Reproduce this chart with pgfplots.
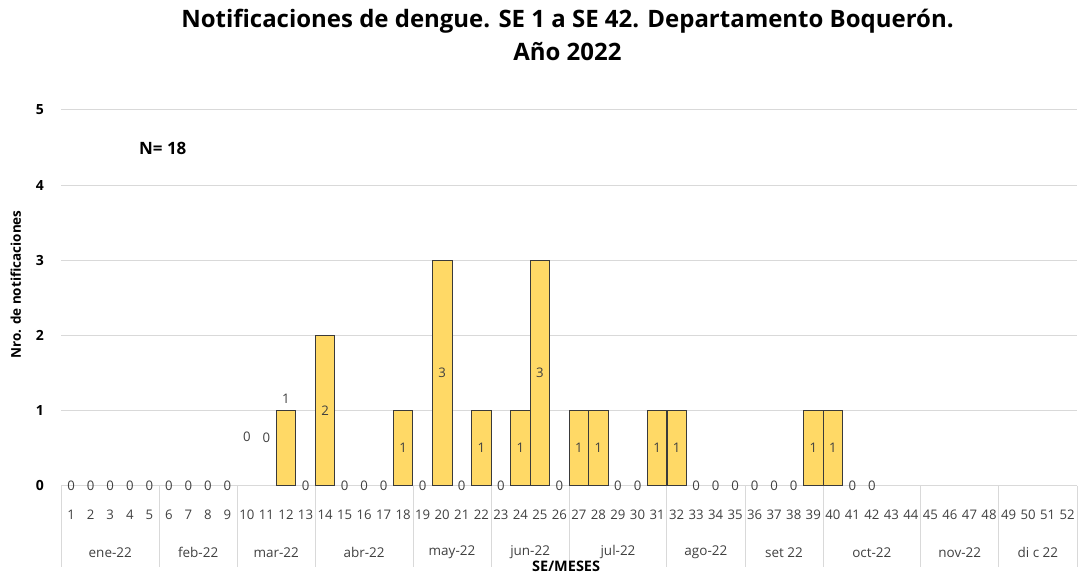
\documentclass[border=0pt]{standalone}
\usepackage{fontspec}
\setmainfont{Open Sans}
\usepackage{pgfplots}
\pgfplotsset{compat=1.18}
\usepackage{pgfplotstable}
\definecolor{barfill}{HTML}{FFD966}
\definecolor{bardraw}{HTML}{3A3A3A}
\definecolor{gridc}{HTML}{D9D9D9}
\definecolor{txt}{HTML}{404040}

% week, value, label position, label
\pgfplotstableread{
week value ly lab
1 0 0 0
2 0 0 0
3 0 0 0
4 0 0 0
5 0 0 0
6 0 0 0
7 0 0 0
8 0 0 0
9 0 0 0
10 0 0.65 0
11 0 0.63 0
12 1 1.16 1
13 0 0 0
14 2 1 2
15 0 0 0
16 0 0 0
17 0 0 0
18 1 0.5 1
19 0 0 0
20 3 1.5 3
21 0 0 0
22 1 0.5 1
23 0 0 0
24 1 0.5 1
25 3 1.5 3
26 0 0 0
27 1 0.5 1
28 1 0.5 1
29 0 0 0
30 0 0 0
31 1 0.5 1
32 1 0.5 1
33 0 0 0
34 0 0 0
35 0 0 0
36 0 0 0
37 0 0 0
38 0 0 0
39 1 0.5 1
40 1 0.5 1
41 0 0 0
42 0 0 0
}\data

\begin{document}
\begin{tikzpicture}
\path (-61.5pt,-87pt) rectangle (1016.5pt,486pt);
\begin{axis}[
  at={(0,0)}, anchor=south west,
  scale only axis, width=1016.5pt, height=376pt,
  xmin=0.5, xmax=52.5, ymin=0, ymax=5,
  xtick={1,...,52}, ytick={0,...,5},
  major tick length=0pt,
  axis x line=bottom, axis y line=left,
  axis line style={draw=none},
  ymajorgrids, grid style={gridc, line width=0.8pt},
  /pgf/number format/assume math mode=true,
  xticklabel style={font=\fontsize{13.2}{15}\selectfont, text=txt, anchor=center, yshift=-29pt},
  yticklabel style={font=\bfseries\fontsize{14}{16}\selectfont, text=black, anchor=center, xshift=-21.5pt},
  ylabel={Nro. de notificaciones},
  ylabel style={at={(axis description cs:-0.0364,0.535)}, anchor=south, font=\bfseries\fontsize{13.5}{15}\selectfont},
  xlabel={SE/MESES},
  xlabel style={at={(axis description cs:0.497,-0.2154)}, anchor=center, font=\bfseries\fontsize{14.5}{16}\selectfont},
  clip=false,
]
\addplot[ybar, bar width=19.3pt, fill=barfill, draw=bardraw, line width=0.7pt, restrict y to domain=0.5:10]
  table[x=week, y=value]{\data};
\addplot[draw=none, mark=none, nodes near coords=\pgfplotspointmeta, point meta=explicit symbolic,
  nodes near coords align={center},
  every node near coord/.append style={font=\fontsize{13.2}{15}\selectfont, text=txt, anchor=center}]
  table[x=week, y=ly, meta=lab]{\data};

\pgfplotsinvokeforeach{0.5,5.5,9.5,13.5,18.5,22.5,26.5,31.5,35.5,39.5,44.5,48.5,52.5}{
  \draw[gridc, line width=0.8pt] (axis cs:#1,0) -- ([yshift=-82pt]axis cs:#1,0);
}
\begin{scope}[every node/.style={font=\fontsize{13.5}{15}\selectfont, text=txt}]
\node at ([yshift=-67pt]axis cs:3,0) {ene-22};
\node at ([yshift=-67pt]axis cs:7.5,0) {feb-22};
\node at ([yshift=-67pt]axis cs:11.5,0) {mar-22};
\node at ([yshift=-67pt]axis cs:16,0) {abr-22};
\node at ([yshift=-67pt]axis cs:20.5,0) {may-22};
\node at ([yshift=-67pt]axis cs:24.5,0) {jun-22};
\node at ([yshift=-67pt]axis cs:29,0) {jul-22};
\node at ([yshift=-67pt]axis cs:33.5,0) {ago-22};
\node at ([yshift=-67pt]axis cs:37.5,0) {set 22};
\node at ([yshift=-67pt]axis cs:42,0) {oct-22};
\node at ([yshift=-67pt]axis cs:46.5,0) {nov-22};
\node at ([yshift=-67pt]axis cs:50.5,0) {di c 22};
\end{scope}
\node[font=\bfseries\fontsize{17}{19}\selectfont] at (axis cs:5.69,4.49) {N= 18};
\node[font=\bfseries\fontsize{24}{28}\selectfont, anchor=base] at (axis description cs:0.4983,1.2181)
  {Notificaciones de dengue. SE 1 a SE 42. Departamento Boquerón.};
\node[font=\bfseries\fontsize{24}{28}\selectfont, anchor=base] at (axis description cs:0.4983,1.1303) {Año 2022};
\end{axis}
\end{tikzpicture}
\end{document}
